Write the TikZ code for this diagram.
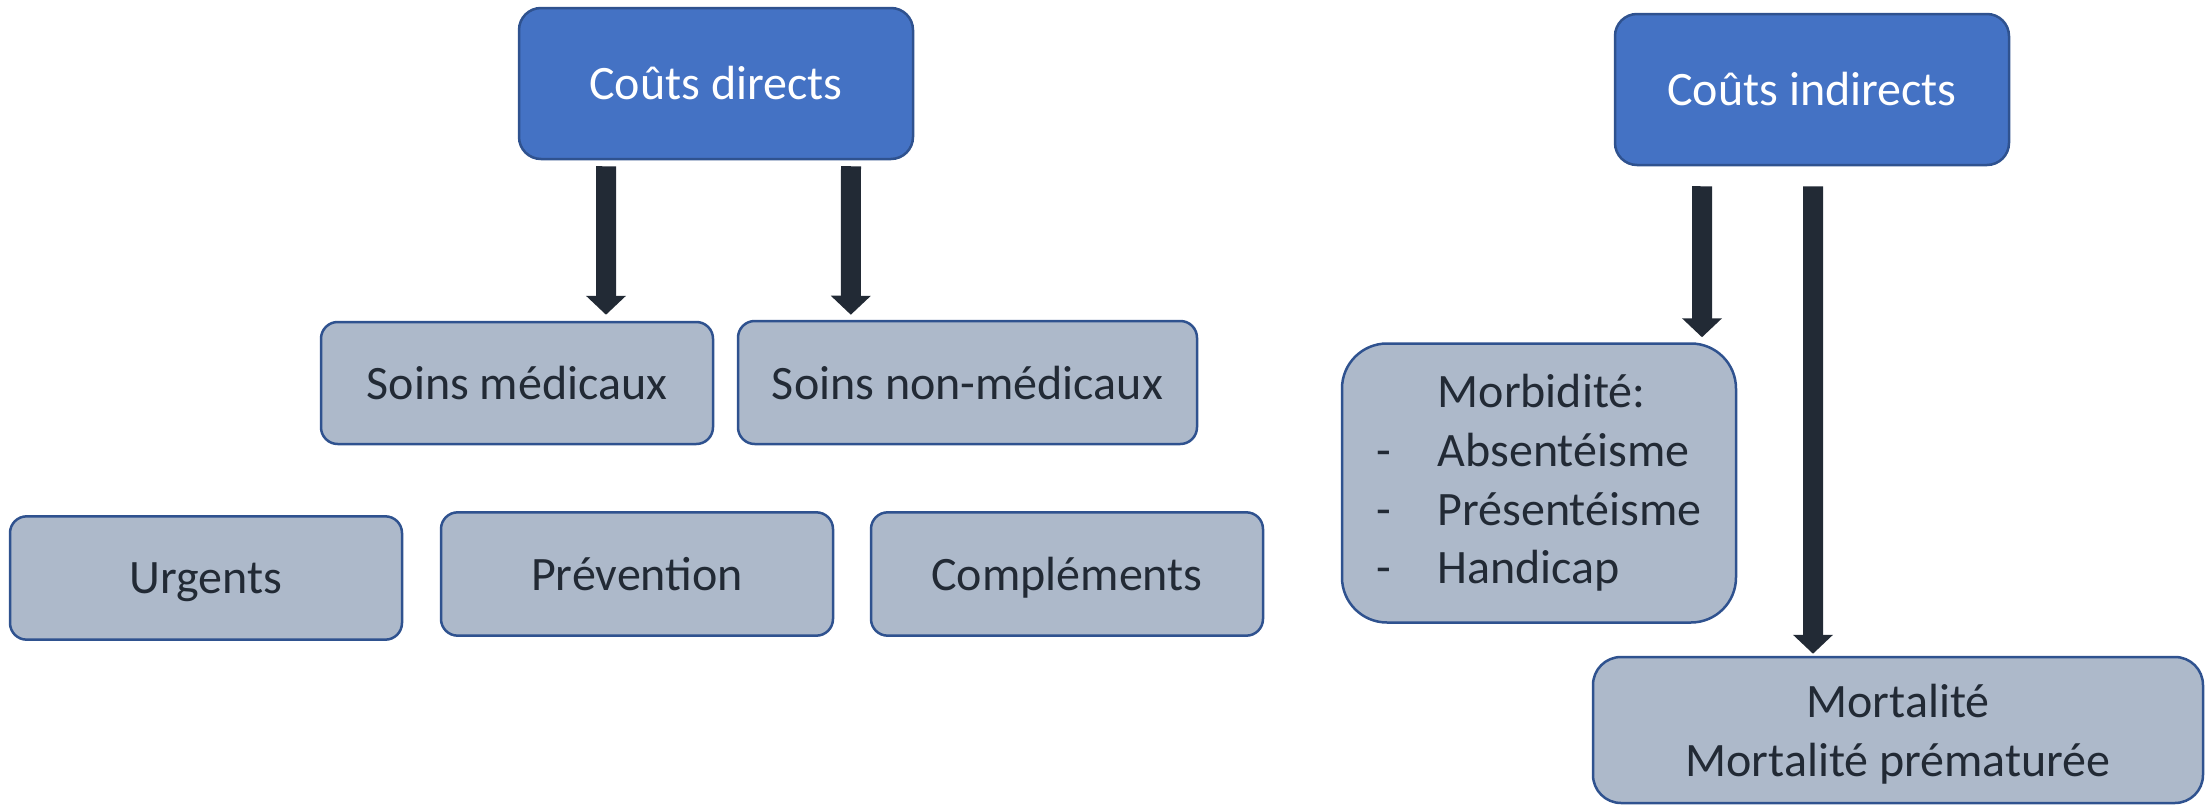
\documentclass[tikz,border=0pt]{standalone}
\usepackage{fontspec}
\setmainfont{Carlito}
\usetikzlibrary{arrows.meta}
\definecolor{blueF}{HTML}{4472C4}
\definecolor{blueD}{HTML}{2F528F}
\definecolor{greyF}{HTML}{ADB9CA}
\definecolor{ink}{HTML}{222A35}
\begin{document}
\begin{tikzpicture}[x=0.3pt,y=-0.3pt,
  box/.style={draw=blueD, line width=0.75pt, inner sep=0pt, font=\fontsize{14.4}{17.6}\selectfont, align=center},
  topbox/.style={box, fill=blueF, text=white, rounded corners=6.6pt, minimum width=118.2pt, minimum height=45.3pt},
  subbox/.style={box, fill=greyF, text=ink, rounded corners=5pt, minimum height=37pt},
  oneline/.style={text depth=0pt},
  bigarrow/.style={draw=ink, line width=6pt, -{Triangle[width=11.7pt,length=5.7pt]}}
]
\useasboundingbox (0,0) rectangle (2205,805);

\node[topbox] (cd) at (716,83.5) {Coûts directs};
\node[topbox] (ci) at (1812,89.5) {Coûts indirects};

\node[subbox, oneline, minimum width=117.6pt, minimum height=36.6pt] (sm) at (517,383) {Soins médicaux};
\node[subbox, oneline, minimum width=137.7pt, minimum height=36.9pt] (snm) at (967.5,382.5) {Soins non-médicaux};
\node[subbox, oneline, minimum width=117.6pt] (urg) at (206,578) {Urgents};
\node[subbox, oneline, minimum width=117.6pt] (prev) at (637,574) {Prévention};
\node[subbox, oneline, minimum width=117.6pt] (comp) at (1067,574) {Compléments};

\node[subbox, rounded corners=13.5pt, minimum width=118.2pt, minimum height=83.7pt, align=left] (morb) at (1539,483)
  {\hspace*{18.3pt}Morbidité:\\\makebox[18.3pt][l]{-}Absentéisme\\\makebox[18.3pt][l]{-}Présentéisme\\\makebox[18.3pt][l]{-}Handicap};
\node[subbox, oneline, rounded corners=8.4pt, minimum width=183pt, minimum height=43.8pt] (mort) at (1898,730)
  {Mortalité\\Mortalité prématurée};

\draw[bigarrow] ([xshift=-33pt,yshift=-1.8pt]cd.south) -- ([xshift=26.7pt,yshift=1.8pt]sm.north);
\draw[bigarrow] ([xshift=40.5pt,yshift=-1.8pt]cd.south) -- ([xshift=-35pt,yshift=1.5pt]snm.north);
\draw[bigarrow] ([xshift=-33pt,yshift=-6pt]ci.south) -- ([xshift=48.9pt,yshift=1.5pt]morb.north);
\draw[bigarrow] ([xshift=0.3pt,yshift=-6pt]ci.south) -- ([xshift=-25.5pt,yshift=0.6pt]mort.north);
\end{tikzpicture}
\end{document}
